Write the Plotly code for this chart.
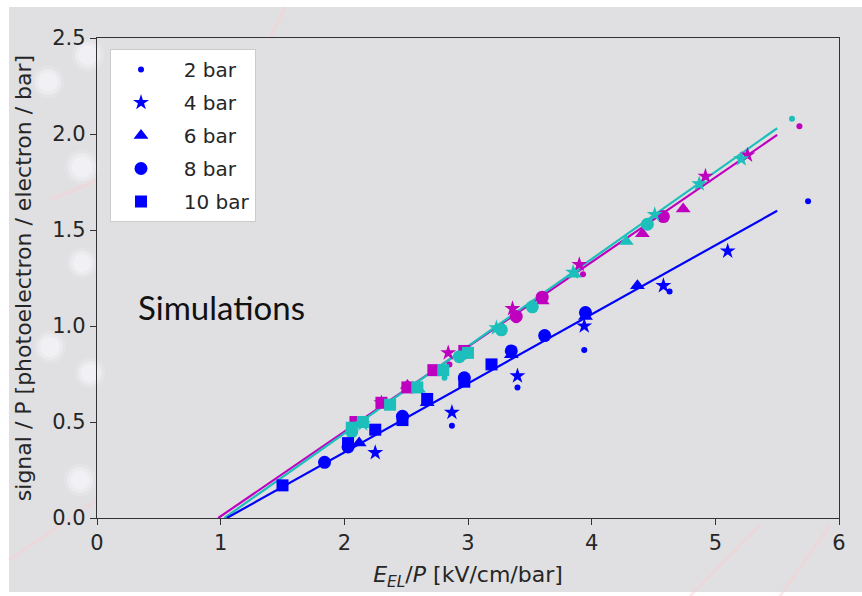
import plotly.graph_objects as go

# ---- measured signal per pressure, three detector configurations ----
pressures = ["2 bar", "4 bar", "6 bar", "8 bar", "10 bar"]
symbols = ["circle", "star", "triangle-up", "circle", "square"]
sizes = [6, 12, 13, 13, 12]

blue_x = {
    "2 bar": [2.87, 3.40, 3.94, 4.63, 5.75],
    "4 bar": [2.25, 2.87, 3.40, 3.94, 4.58, 5.10],
    "6 bar": [2.12, 2.67, 3.35, 3.95, 4.37],
    "8 bar": [1.84, 2.03, 2.47, 2.97, 3.35, 3.62, 3.95],
    "10 bar": [1.50, 2.03, 2.25, 2.47, 2.67, 2.97, 3.19],
}
blue_y = {
    "2 bar": [0.48, 0.68, 0.875, 1.18, 1.65],
    "4 bar": [0.34, 0.55, 0.74, 1.00, 1.21, 1.39],
    "6 bar": [0.39, 0.60, 0.85, 1.05, 1.21],
    "8 bar": [0.29, 0.37, 0.53, 0.73, 0.87, 0.95, 1.07],
    "10 bar": [0.17, 0.39, 0.46, 0.51, 0.62, 0.71, 0.80],
}

magenta_x = {
    "2 bar": [2.85, 3.39, 3.93, 4.58, 5.68],
    "4 bar": [2.30, 2.84, 3.36, 3.90, 4.92, 5.26],
    "6 bar": [2.51, 3.60, 4.41, 4.74],
    "8 bar": [2.97, 3.39, 3.60, 4.58],
    "10 bar": [2.09, 2.30, 2.51, 2.72, 2.97],
}
magenta_y = {
    "2 bar": [0.80, 1.03, 1.27, 1.57, 2.04],
    "4 bar": [0.60, 0.86, 1.09, 1.32, 1.78, 1.89],
    "6 bar": [0.69, 1.13, 1.48, 1.61],
    "8 bar": [0.86, 1.05, 1.15, 1.57],
    "10 bar": [0.50, 0.60, 0.68, 0.77, 0.87],
}

cyan_x = {
    "2 bar": [2.81, 5.62],
    "4 bar": [2.15, 3.23, 3.85, 4.51, 4.87, 5.21],
    "6 bar": [2.60, 3.86, 4.28],
    "8 bar": [2.06, 2.93, 3.27, 3.52, 4.45],
    "10 bar": [2.06, 2.15, 2.37, 2.59, 2.80, 3.00],
}
cyan_y = {
    "2 bar": [0.73, 2.08],
    "4 bar": [0.49, 0.99, 1.28, 1.58, 1.74, 1.87],
    "6 bar": [0.67, 1.27, 1.44],
    "8 bar": [0.45, 0.84, 0.98, 1.10, 1.53],
    "10 bar": [0.47, 0.50, 0.59, 0.68, 0.77, 0.86],
}

# linear fits: threshold crossing and end point
fit_blue_x, fit_blue_y = [1.05, 5.50], [0.0, 1.60]
fit_magenta_x, fit_magenta_y = [0.98, 5.50], [0.0, 1.995]
fit_cyan_x, fit_cyan_y = [1.03, 5.50], [0.0, 2.03]

BLUE, MAGENTA, CYAN = "#0000ff", "#bf00bf", "#1cbfbb"
TXT = "#262626"

# plot-area geometry in page pixels
L, R, T, B = 97, 839, 38, 518
W, H = R - L, B - T


def px(x):
    return (x - L) / W


def py(y):
    return (B - y) / H


fig = go.Figure()

# slide background: grey panel with soft white spots and faint pink streaks
fig.add_shape(type="rect", xref="paper", yref="paper",
              x0=px(9), x1=px(862), y0=py(592), y1=py(7),
              fillcolor="#e0e0e2", line_width=0, layer="below")
for cx, cy, r in [(88, 55, 13), (48, 82, 13), (82, 167, 14), (82, 263, 12),
                  (50, 347, 13), (90, 373, 12), (80, 480, 13)]:
    for k, a in [(1.25, 0.18), (1.0, 0.35), (0.75, 0.45)]:
        rr = r * k
        fig.add_shape(type="circle", xref="paper", yref="paper",
                      x0=px(cx - rr), x1=px(cx + rr),
                      y0=py(cy + rr), y1=py(cy - rr),
                      fillcolor=f"rgba(248,248,252,{a})", line_width=0,
                      layer="below")
for x0, y0, x1, y1 in [(9, 560, 97, 500), (50, 200, 97, 180),
                       (690, 596, 760, 525), (780, 596, 830, 525),
                       (270, 38, 285, 7)]:
    fig.add_shape(type="line", xref="paper", yref="paper",
                  x0=px(x0), y0=py(y0), x1=px(x1), y1=py(y1),
                  line=dict(color="rgba(250,205,210,0.45)", width=3),
                  layer="below")

for fx, fy, col in [(fit_magenta_x, fit_magenta_y, MAGENTA),
                    (fit_cyan_x, fit_cyan_y, CYAN),
                    (fit_blue_x, fit_blue_y, BLUE)]:
    fig.add_trace(go.Scatter(x=fx, y=fy, mode="lines",
                             line=dict(color=col, width=2.2),
                             showlegend=False, hoverinfo="skip"))

for data_x, data_y, col in [(magenta_x, magenta_y, MAGENTA),
                            (cyan_x, cyan_y, CYAN)]:
    for p, sym, sz in zip(pressures, symbols, sizes):
        fig.add_trace(go.Scatter(x=data_x[p], y=data_y[p], mode="markers",
                                 marker=dict(symbol=sym, size=sz, color=col,
                                             line_width=0),
                                 showlegend=False))

for p, sym, sz in zip(pressures, symbols, sizes):
    fig.add_trace(go.Scatter(x=blue_x[p], y=blue_y[p], mode="markers",
                             name="  " + p, legendgroup=p,
                             marker=dict(symbol=sym, size=sz, color=BLUE,
                                         line_width=0)))

fig.add_annotation(x=px(136), y=py(307), xref="paper", yref="paper",
                   xanchor="left", yanchor="middle", showarrow=False,
                   text="Simulations",
                   font=dict(family="Lato", size=33, color="#111111"))

axis_common = dict(showline=True, linecolor="#333333", linewidth=1.3,
                   mirror=True, ticks="outside", ticklen=6, tickwidth=1.2,
                   tickcolor="#333333", showgrid=False, zeroline=False,
                   tickfont=dict(family="DejaVu Sans", size=21, color=TXT))

fig.update_xaxes(range=[0, 6], tickvals=[0, 1, 2, 3, 4, 5, 6],
                 title=dict(text="<i>E</i><sub><i>EL</i></sub>/<i>P</i> [kV/cm/bar]",
                            font=dict(family="DejaVu Sans", size=22, color=TXT),
                            standoff=12),
                 **axis_common)
fig.update_yaxes(range=[0, 2.5], tickvals=[0, 0.5, 1.0, 1.5, 2.0, 2.5],
                 ticktext=["0.0", "0.5", "1.0", "1.5", "2.0", "2.5"],
                 title=dict(text="signal / P [photoelectron / electron / bar]",
                            font=dict(family="DejaVu Sans", size=22, color=TXT),
                            standoff=14),
                 **axis_common)

fig.update_layout(
    width=862, height=596,
    margin=dict(l=L, r=862 - R, t=T, b=596 - B),
    paper_bgcolor="white", plot_bgcolor="white",
    legend=dict(x=px(110), y=py(49), xanchor="left", yanchor="top",
                bgcolor="white", bordercolor="#cccccc", borderwidth=1,
                font=dict(family="DejaVu Sans", size=20, color=TXT),
                tracegroupgap=4, itemsizing="trace", itemwidth=50),
)

fig.write_html("out.html")
